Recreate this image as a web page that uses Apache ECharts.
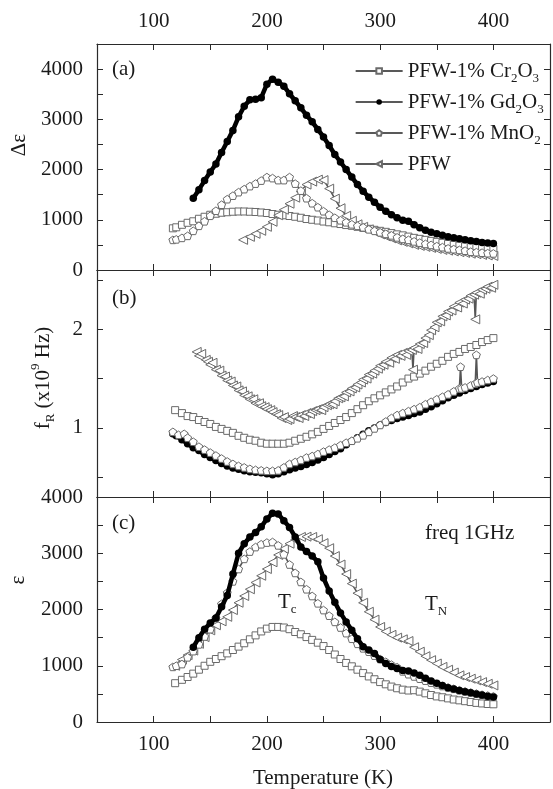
<!DOCTYPE html>
<html><head><meta charset="utf-8">
<script src="https://cdn.jsdelivr.net/npm/echarts@6/dist/echarts.min.js"></script>
<style>html,body{margin:0;padding:0;background:#fff}#c{width:553px;height:789px}</style>
</head><body><div id="c"></div>
<script>
// ---------------- data (Temperature K, value) ----------------
const xTickLabels = [100, 200, 300, 400];
const aTickLabels = [0, 1000, 2000, 3000, 4000];
const bTickLabels = [1, 2];
const bTicks = [0.5, 1, 1.5, 2, 2.5];
const cTickLabels = [0, 1000, 2000, 3000, 4000];

// panel (a): delta epsilon
const aCr = [[117,830],[120,850],[125,900],[130,940],[135,970],[140,1020],[145,1060],[150,1100],[155,1120],[160,1140],[165,1150],[170,1160],[175,1165],[180,1165],[185,1160],[190,1155],[195,1145],[200,1135],[205,1115],[210,1100],[215,1090],[220,1075],[225,1060],[230,1040],[235,1015],[240,1000],[245,985],[250,965],[255,950],[260,930],[265,915],[270,895],[275,880],[280,860],[285,840],[290,820],[295,800],[300,780],[305,760],[310,735],[315,710],[320,690],[325,665],[330,640],[335,620],[340,600],[345,580],[350,560],[355,540],[360,520],[365,500],[370,485],[375,470],[380,455],[385,445],[390,435],[395,425],[400,420]];
const aGd = [[135,1430],[140,1600],[145,1780],[150,1950],[155,2110],[160,2340],[165,2560],[170,2780],[175,3050],[180,3260],[185,3390],[190,3400],[195,3430],[200,3700],[205,3800],[210,3740],[215,3660],[220,3510],[225,3370],[230,3230],[235,3080],[240,2950],[245,2800],[250,2650],[255,2480],[260,2300],[265,2150],[270,2000],[275,1850],[280,1700],[285,1570],[290,1450],[295,1350],[300,1250],[305,1170],[310,1100],[315,1040],[320,990],[325,970],[330,900],[335,840],[340,790],[345,750],[350,720],[355,690],[360,660],[365,640],[370,620],[375,600],[380,580],[385,565],[390,550],[395,540],[400,530]];
const aMn = [[117,600],[120,610],[125,640],[130,680],[135,780],[140,880],[145,970],[150,1080],[155,1180],[160,1300],[165,1410],[170,1480],[175,1550],[180,1610],[185,1670],[190,1720],[195,1780],[200,1850],[205,1830],[210,1790],[215,1790],[220,1850],[225,1720],[230,1580],[235,1430],[240,1330],[245,1250],[250,1170],[255,1100],[260,1040],[265,990],[270,950],[275,910],[280,880],[285,850],[290,810],[295,780],[300,750],[305,720],[310,690],[315,650],[320,620],[325,600],[330,570],[335,545],[340,520],[345,500],[350,475],[355,455],[360,430],[365,415],[370,400],[375,385],[380,365],[385,355],[390,345],[395,335],[400,330]];
const aPFW = [[179,600],[185,660],[190,720],[195,780],[200,860],[205,960],[210,1090],[215,1200],[220,1320],[225,1440],[230,1560],[235,1700],[240,1760],[245,1800],[250,1790],[255,1620],[260,1420],[265,1230],[270,1080],[275,980],[280,910],[285,860],[290,810],[295,760],[300,710],[305,670],[310,630],[315,590],[320,560],[325,530],[330,500],[335,480],[340,460],[345,440],[350,420],[355,400],[360,385],[365,370],[370,355],[375,340],[380,325],[385,315],[390,300],[395,290],[400,280]];

// panel (b): resonance frequency (x10^9 Hz)
const bCr = [[119,1.18],[125,1.15],[130,1.12],[135,1.11],[140,1.08],[145,1.06],[150,1.04],[155,1.01],[160,0.99],[165,0.97],[170,0.95],[175,0.92],[180,0.90],[185,0.88],[190,0.87],[195,0.85],[200,0.84],[205,0.84],[210,0.84],[215,0.84],[220,0.85],[225,0.87],[230,0.89],[235,0.91],[240,0.935],[245,0.96],[250,0.99],[255,1.02],[260,1.05],[265,1.08],[270,1.11],[275,1.15],[280,1.19],[285,1.23],[290,1.27],[295,1.30],[300,1.33],[305,1.36],[310,1.39],[315,1.42],[320,1.46],[325,1.50],[330,1.52],[335,1.55],[340,1.58],[345,1.62],[350,1.65],[355,1.68],[360,1.72],[365,1.75],[370,1.77],[375,1.80],[380,1.82],[385,1.84],[390,1.87],[395,1.89],[400,1.91]];
const bGd = [[117,0.94],[120,0.92],[125,0.88],[130,0.84],[135,0.80],[140,0.77],[145,0.73],[150,0.70],[155,0.67],[160,0.64],[165,0.615],[170,0.595],[175,0.58],[180,0.565],[185,0.555],[190,0.55],[195,0.545],[200,0.535],[205,0.525],[210,0.535],[215,0.555],[220,0.575],[225,0.595],[230,0.61],[235,0.63],[240,0.65],[245,0.675],[250,0.70],[255,0.73],[260,0.76],[265,0.79],[270,0.83],[275,0.865],[280,0.90],[285,0.935],[290,0.97],[295,1.00],[300,1.03],[305,1.055],[310,1.075],[315,1.095],[320,1.11],[325,1.125],[330,1.145],[335,1.16],[340,1.19],[345,1.215],[350,1.245],[355,1.275],[360,1.305],[365,1.33],[370,1.355],[375,1.38],[380,1.40],[385,1.42],[390,1.44],[395,1.455],[400,1.47]];
const bMn = [[117,0.96],[122,0.93],[127,0.94],[130,0.90],[135,0.86],[140,0.81],[145,0.78],[150,0.75],[155,0.72],[160,0.69],[165,0.66],[170,0.635],[175,0.615],[180,0.60],[185,0.585],[190,0.575],[195,0.57],[200,0.565],[205,0.565],[210,0.57],[215,0.60],[220,0.635],[225,0.655],[230,0.675],[235,0.70],[240,0.715],[245,0.735],[250,0.76],[255,0.78],[260,0.80],[265,0.825],[270,0.85],[275,0.87],[280,0.895],[285,0.925],[290,0.96],[295,0.995],[300,1.03],[305,1.065],[310,1.10],[315,1.13],[320,1.15],[325,1.17],[330,1.19],[335,1.21],[340,1.24],[345,1.265],[350,1.29],[355,1.315],[360,1.34],[365,1.37],[370,1.40],[371,1.62],[372,1.40],[375,1.41],[380,1.43],[384,1.45],[385,1.74],[386,1.46],[390,1.47],[395,1.485],[400,1.50]];
const bPFW = [[138,1.77],[140,1.73],[142,1.75],[146,1.69],[148,1.67],[150,1.64],[152,1.66],[155,1.59],[158,1.58],[160,1.53],[163,1.52],[165,1.48],[168,1.47],[170,1.43],[173,1.42],[175,1.38],[178,1.37],[180,1.33],[183,1.32],[185,1.29],[188,1.29],[190,1.25],[193,1.25],[195,1.22],[198,1.21],[200,1.19],[203,1.18],[205,1.16],[208,1.14],[210,1.13],[213,1.10],[215,1.11],[218,1.08],[220,1.09],[223,1.12],[225,1.11],[228,1.10],[230,1.13],[233,1.12],[235,1.15],[238,1.14],[240,1.17],[243,1.18],[245,1.19],[248,1.18],[250,1.21],[253,1.23],[255,1.24],[258,1.24],[260,1.27],[263,1.30],[265,1.31],[268,1.32],[270,1.36],[273,1.37],[275,1.40],[278,1.41],[280,1.44],[283,1.46],[285,1.49],[288,1.50],[290,1.54],[293,1.55],[295,1.58],[298,1.60],[300,1.63],[303,1.64],[305,1.67],[308,1.66],[310,1.71],[313,1.70],[315,1.74],[318,1.73],[320,1.76],[323,1.74],[325,1.78],[328,1.79],[329,1.59],[330,1.81],[333,1.80],[335,1.85],[338,1.86],[340,1.91],[343,1.94],[345,1.99],[348,2.02],[350,2.07],[353,2.08],[355,2.13],[358,2.14],[360,2.18],[363,2.19],[365,2.23],[368,2.22],[370,2.27],[373,2.26],[375,2.30],[378,2.31],[380,2.34],[383,2.35],[384,2.10],[385,2.37],[388,2.36],[390,2.40],[393,2.41],[395,2.43],[398,2.42],[400,2.45]];

// panel (c): epsilon at 1 GHz
const cCr = [[119,690],[125,750],[130,800],[135,860],[140,930],[145,1000],[150,1070],[155,1120],[160,1170],[165,1220],[170,1280],[175,1340],[180,1400],[185,1470],[190,1540],[195,1610],[200,1660],[205,1690],[210,1690],[215,1680],[220,1650],[225,1600],[230,1560],[235,1510],[240,1460],[245,1410],[250,1350],[255,1280],[260,1200],[265,1120],[270,1050],[275,990],[280,930],[285,870],[290,810],[295,760],[300,710],[305,670],[310,630],[315,600],[320,575],[325,560],[330,565],[335,540],[340,510],[345,480],[350,455],[355,440],[360,420],[365,400],[370,385],[375,370],[380,355],[385,340],[390,330],[395,320],[400,315]];
const cGd = [[135,1330],[140,1500],[145,1650],[150,1760],[155,1850],[160,2050],[165,2250],[170,2630],[175,3000],[180,3170],[185,3290],[190,3370],[195,3470],[200,3610],[205,3710],[210,3700],[215,3580],[220,3460],[225,3290],[230,3110],[235,3030],[240,2950],[245,2850],[250,2560],[255,2330],[260,2130],[265,1940],[270,1780],[275,1630],[280,1480],[285,1340],[290,1280],[295,1220],[300,1110],[305,1040],[310,985],[315,950],[320,915],[325,905],[330,870],[335,830],[340,780],[345,730],[350,690],[355,650],[360,610],[365,585],[370,560],[375,540],[380,520],[385,500],[390,480],[395,460],[400,445]];
const cMn = [[117,980],[120,1000],[125,1030],[130,1150],[135,1260],[140,1380],[145,1520],[150,1650],[155,1850],[160,2100],[165,2300],[170,2500],[175,2720],[180,2900],[185,3030],[190,3110],[195,3160],[200,3190],[205,3200],[210,3140],[215,2980],[220,2800],[225,2650],[230,2490],[235,2360],[240,2240],[245,2110],[250,1990],[255,1890],[260,1780],[265,1680],[270,1580],[275,1480],[280,1390],[285,1310],[290,1250],[295,1180],[300,1120],[305,1070],[310,1020],[315,975],[320,900],[325,850],[330,810],[335,770],[340,735],[345,700],[350,670],[355,640],[360,615],[365,590],[370,565],[375,545],[380,525],[385,505],[390,485],[395,470],[400,456]];
const cPFW = [[119,1000],[125,1110],[130,1190],[135,1270],[140,1390],[145,1510],[150,1630],[155,1720],[160,1790],[165,1870],[170,1990],[175,2120],[180,2240],[185,2360],[190,2480],[195,2600],[200,2720],[205,2840],[210,2970],[215,3080],[220,3170],[225,3240],[230,3290],[235,3295],[240,3290],[245,3250],[250,3180],[255,3090],[260,2950],[265,2800],[270,2630],[275,2460],[280,2290],[285,2120],[290,1960],[295,1820],[300,1690],[305,1610],[310,1550],[315,1500],[320,1470],[325,1440],[330,1330],[335,1250],[340,1170],[345,1100],[350,1040],[355,980],[360,930],[365,880],[370,830],[375,800],[380,770],[385,740],[390,710],[395,680],[400,650]];

// ---------------- chart ----------------
const FONT = 'Liberation Serif';
const TXT = '#1a1a1a';
const AX = '#2a2a2a';

const legendLabels = {
  Cr: 'PFW-1% Cr{s|2}O{s|3}',
  Gd: 'PFW-1% Gd{s|2}O{s|3}',
  Mn: 'PFW-1% MnO{s|2}',
  PFW: 'PFW'
};

const GRAY = '#6a6a6a';
const styles = {
  Cr: { symbol: 'rect', symbolSize: 7, itemStyle: { color: '#fff', borderColor: GRAY, borderWidth: 1 }, lineStyle: { color: '#555', width: 1.6 } },
  Gd: { symbol: 'circle', symbolSize: 7.5, itemStyle: { color: '#000', borderColor: '#000', borderWidth: 0 }, lineStyle: { color: '#000', width: 4.5 } },
  Mn: { symbol: 'path://M0,-1L0.951,-0.309L0.588,0.809L-0.588,0.809L-0.951,-0.309Z', symbolSize: 8, itemStyle: { color: '#fff', borderColor: GRAY, borderWidth: 1 }, lineStyle: { color: '#555', width: 1.6 } },
  PFW: { symbol: 'path://M0,5L10,0L10,10Z', symbolSize: 9, itemStyle: { color: '#fff', borderColor: GRAY, borderWidth: 1 }, lineStyle: { color: '#555', width: 1.6 } }
};

const grids = [
  { left: 97, width: 453, top: 44, height: 226 },
  { left: 97, width: 453, top: 270, height: 227 },
  { left: 97, width: 453, top: 497, height: 225 }
];

const labelFont = { fontFamily: FONT, fontSize: 21, color: TXT };
const axisLine = { show: true, onZero: false, lineStyle: { color: AX, width: 1.2 } };
const tick = { show: true, inside: true, length: 6, lineStyle: { color: AX, width: 1 } };

const xAxis = [];
grids.forEach((g, i) => {
  ['bottom', 'top'].forEach(pos => {
    const showLab = (pos === 'bottom' && i === 2) || (pos === 'top' && i === 0);
    xAxis.push({
      type: 'value', gridIndex: i, position: pos, min: 50, max: 450, interval: 50,
      axisLine, axisTick: tick, splitLine: { show: false },
      axisLabel: Object.assign({ show: showLab, margin: 12,
        formatter: v => xTickLabels.includes(v) ? String(v) : '' }, labelFont)
    });
  });
});

const yDefs = [
  { min: 0, max: 4500, interval: 500, fmt: v => aTickLabels.includes(v) ? String(v) : '' },
  { min: 0.3, max: 2.6, fmt: v => bTickLabels.includes(Math.round(v * 1000) / 1000) ? String(Math.round(v)) : '', custom: true },
  { min: 0, max: 4000, interval: 500, fmt: v => cTickLabels.includes(v) ? String(v) : '' }
];
const yAxis = [];
yDefs.forEach((d, i) => {
  ['left', 'right'].forEach(pos => {
    const ax = {
      type: 'value', gridIndex: i, position: pos, min: d.min, max: d.max,
      axisLine, axisTick: Object.assign({}, tick), splitLine: { show: false },
      axisLabel: Object.assign({ show: pos === 'left', margin: 14, formatter: d.fmt }, labelFont)
    };
    if (d.interval) ax.interval = d.interval;
    if (d.custom) {
      ax.axisTick.customValues = bTicks;
      ax.axisLabel.customValues = bTickLabels;
    }
    yAxis.push(ax);
  });
});

const panels = [
  { Cr: aCr, Gd: aGd, Mn: aMn, PFW: aPFW },
  { Cr: bCr, Gd: bGd, Mn: bMn, PFW: bPFW },
  { Cr: cCr, Gd: cGd, Mn: cMn, PFW: cPFW }
];
const orders = [['Cr', 'PFW', 'Mn', 'Gd'], ['Cr', 'PFW', 'Gd', 'Mn'], ['Cr', 'PFW', 'Mn', 'Gd']];
const series = [];
panels.forEach((p, i) => {
  orders[i].forEach((k, j) => {
    series.push(Object.assign({
      type: 'line', name: k, data: p[k], xAxisIndex: i * 2, yAxisIndex: i * 2,
      showAllSymbol: true, animation: false, symbolKeepAspect: true, z: 3 + j
    }, JSON.parse(JSON.stringify(styles[k]))));
  });
});

const legendTops = [52, 83, 114, 145];
const legendNames = ['Cr', 'Gd', 'Mn', 'PFW'];
const legend = legendNames.map((n, i) => ({
  data: [n], left: 350, top: legendTops[i], itemWidth: 47, itemHeight: 7, itemGap: 0,
  selectedMode: false,
  lineStyle: { width: 1.3, color: '#222' },
  formatter: name => legendLabels[name],
  textStyle: { fontFamily: FONT, fontSize: 21, color: TXT, lineHeight: 28,
    rich: { s: { fontFamily: FONT, fontSize: 13, color: TXT, verticalAlign: 'bottom', lineHeight: 14 } } }
}));

function txt(x, y, text, extra) {
  return Object.assign({
    type: 'text', x, y, silent: true,
    style: Object.assign({ text, fontFamily: FONT, fontSize: 21, fill: TXT,
      textAlign: 'left', textVerticalAlign: 'middle', align: 'left', verticalAlign: 'middle' }, (extra && extra.style) || {})
  }, extra && extra.rotation ? { rotation: extra.rotation } : {});
}
const richSub = {
  m: { fontFamily: FONT, fontSize: 21, fill: TXT, color: TXT, lineHeight: 28 },
  s: { fontFamily: FONT, fontSize: 13, fill: TXT, color: TXT, verticalAlign: 'bottom', lineHeight: 14 },
  p: { fontFamily: FONT, fontSize: 13, fill: TXT, color: TXT, verticalAlign: 'top', lineHeight: 14 }
};

const graphic = [
  txt(112, 69, '(a)'),
  txt(112, 298, '(b)'),
  txt(112, 523, '(c)'),
  txt(425, 533, 'freq 1GHz'),
  txt(278, 602, '{m|T}{s|c}', { style: { rich: richSub } }),
  txt(425, 604, '{m|T}{s|N}', { style: { rich: richSub } }),
  txt(19, 145, 'Δε', { rotation: Math.PI / 2, style: { textAlign: 'center', align: 'center' } }),
  txt(43, 378, '{m|f}{s|R}{m| (x10}{p|9}{m| Hz)}', { rotation: Math.PI / 2, style: { textAlign: 'center', align: 'center', rich: richSub } }),
  txt(18, 580, 'ε', { rotation: Math.PI / 2, style: { textAlign: 'center', align: 'center' } }),
  txt(323, 778, 'Temperature (K)', { style: { textAlign: 'center', align: 'center' } })
];

const chart = echarts.init(document.getElementById('c'), null, { renderer: 'canvas' });
chart.setOption({
  animation: false,
  backgroundColor: '#fff',
  grid: grids,
  xAxis, yAxis, series, legend, graphic
});
</script>
</body></html>
